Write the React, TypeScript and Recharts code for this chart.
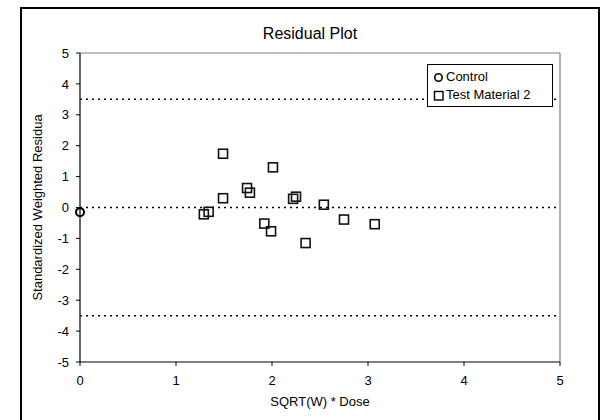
import React from 'react';
import { ScatterChart, Scatter, XAxis, YAxis, ReferenceLine, Customized } from 'recharts';

const chartTitle = 'Residual Plot';
const xAxisTitle = 'SQRT(W) * Dose';
const yAxisTitle = 'Standardized Weighted Residua';
const seriesNames = ['Control', 'Test Material 2'];
const xTicks = [0, 1, 2, 3, 4, 5];
const yTicks = [-5, -4, -3, -2, -1, 0, 1, 2, 3, 4, 5];
const limitLines = [3.5, 0, -3.5];

const controlX = [0];
const controlY = [-0.15];

const testX = [1.49, 2.01, 1.74, 1.77, 1.49, 2.22, 2.25, 2.54, 1.34, 1.29, 1.92, 1.99, 2.75, 3.07, 2.35];
const testY = [1.74, 1.3, 0.63, 0.48, 0.3, 0.28, 0.35, 0.09, -0.14, -0.22, -0.52, -0.77, -0.39, -0.54, -1.15];

const controlData = controlX.map((x, i) => ({ x, y: controlY[i] }));
const testData = testX.map((x, i) => ({ x, y: testY[i] }));

const FONT = '"Liberation Sans", Arial, sans-serif';

const CircleShape = (props: any) => {
  const { cx, cy } = props;
  return <circle cx={cx} cy={cy} r={4} fill="none" stroke="#000" strokeWidth={2} />;
};

const SquareShape = (props: any) => {
  const { cx, cy } = props;
  return <rect x={cx - 4.5} y={cy - 4.5} width={9} height={9} fill="none" stroke="#111" strokeWidth={1.6} />;
};

const Title = () => (
  <text x={310} y={39} textAnchor="middle" fontFamily={FONT} fontSize={16} fill="#000">
    {chartTitle}
  </text>
);

export default function App() {
  return (
    <div style={{ position: 'absolute', left: 0, top: 0, width: 608, height: 420, background: '#fff', overflow: 'hidden' }}>
      <div
        style={{
          position: 'absolute',
          left: 20,
          top: 7,
          width: 580,
          height: 440,
          border: '2px solid #000',
          boxSizing: 'border-box',
        }}
      />
      <div style={{ position: 'absolute', left: 0, top: 0 }}>
        <ScatterChart width={608} height={420} margin={{ top: 53, right: 48, bottom: 10, left: 20 }}>
          <XAxis
            type="number"
            dataKey="x"
            domain={[0, 5]}
            ticks={xTicks}
            interval={0}
            axisLine={{ stroke: '#000', strokeWidth: 1.2 }}
            tickLine={{ stroke: '#000' }}
            tickSize={4}
            tickMargin={10}
            height={48}
            tick={{ fill: '#000', fontSize: 13, fontFamily: FONT }}
            label={{ value: xAxisTitle, position: 'insideBottom', offset: 4, fill: '#000', fontSize: 13, fontFamily: FONT }}
          />
          <YAxis
            type="number"
            dataKey="y"
            domain={[-5, 5]}
            ticks={yTicks}
            interval={0}
            axisLine={{ stroke: '#000', strokeWidth: 1.2 }}
            tickLine={{ stroke: '#000' }}
            tickSize={4}
            tickMargin={7}
            width={60}
            tick={{ fill: '#000', fontSize: 13, fontFamily: FONT }}
            label={{ value: yAxisTitle, angle: -90, position: 'insideLeft', offset: 17, fill: '#000', fontSize: 13, fontFamily: FONT, style: { textAnchor: 'middle' } }}
          />
          <ReferenceLine y={5} stroke="#808080" strokeWidth={1.2} />
          <ReferenceLine x={5} stroke="#808080" strokeWidth={1.2} />
          {limitLines.map((v) => (
            <ReferenceLine key={v} y={v} stroke="#000" strokeWidth={1.5} strokeDasharray="2 4" />
          ))}
          <Scatter name={seriesNames[1]} data={testData} shape={<SquareShape />} isAnimationActive={false} />
          <Scatter name={seriesNames[0]} data={controlData} shape={<CircleShape />} isAnimationActive={false} />
          <Customized component={Title} />
        </ScatterChart>
      </div>
      <div
        style={{
          position: 'absolute',
          left: 427,
          top: 64,
          width: 126,
          height: 43,
          border: '1px solid #000',
          background: '#fff',
          boxSizing: 'border-box',
          fontFamily: FONT,
          fontSize: 13,
          color: '#000',
          padding: '3px 0 0 5px',
          lineHeight: '18px',
        }}
      >
        {seriesNames.map((name, i) => (
          <div key={name} style={{ display: 'flex', alignItems: 'center', whiteSpace: 'nowrap' }}>
            <svg width={11} height={11} style={{ marginRight: 2 }}>
              {i === 0 ? (
                <circle cx={5.5} cy={5.5} r={3.7} fill="none" stroke="#000" strokeWidth={1.6} />
              ) : (
                <rect x={1.5} y={1.5} width={8.5} height={8.5} fill="none" stroke="#000" strokeWidth={1.4} />
              )}
            </svg>
            <span>{name}</span>
          </div>
        ))}
      </div>
    </div>
  );
}
